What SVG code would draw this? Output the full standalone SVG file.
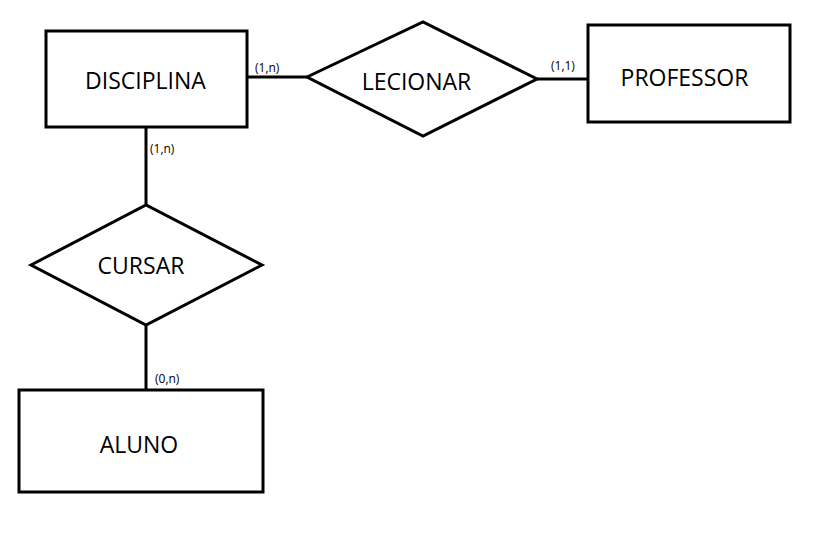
<svg xmlns="http://www.w3.org/2000/svg" width="830" height="534" viewBox="0 0 830 534">
<style>
.shape{fill:#fff;stroke:#000;stroke-width:3}
.conn{stroke:#000;stroke-width:3;fill:none}
.lbl{font-family:"Open Sans","Noto Sans",sans-serif;font-size:23px;fill:#000;text-anchor:middle}
.card{font-family:"Open Sans","Noto Sans",sans-serif;font-size:12px;fill:#000}
</style>
<rect width="830" height="534" fill="#fff"/>
<g id="connectors">
<line class="conn" x1="247" y1="77" x2="307" y2="77"/>
<line class="conn" x1="537" y1="79" x2="588" y2="79"/>
<line class="conn" x1="146" y1="127" x2="146" y2="206"/>
<line class="conn" x1="146" y1="325" x2="146" y2="393"/>
<text class="card" x="255" y="72">(1,n)</text>
<text class="card" x="551" y="70">(1,1)</text>
<text class="card" x="150" y="153">(1,n)</text>
<text class="card" x="155" y="383">(0,n)</text>
</g>
<g id="disciplina">
<rect class="shape" x="46" y="31" width="201" height="96"/>
<text class="lbl" x="145.5" y="89">DISCIPLINA</text>
</g>
<g id="lecionar">
<polygon class="shape" points="307,77 423,22 537,79 423,136"/>
<text class="lbl" x="416.5" y="90">LECIONAR</text>
</g>
<g id="professor">
<rect class="shape" x="588" y="25" width="202" height="97"/>
<text class="lbl" x="684.5" y="86">PROFESSOR</text>
</g>
<g id="cursar">
<polygon class="shape" points="31,265 146,205 262,265 146,325"/>
<text class="lbl" x="141" y="274">CURSAR</text>
</g>
<g id="aluno">
<rect class="shape" x="19" y="390" width="244" height="102"/>
<text class="lbl" x="139" y="453">ALUNO</text>
</g>
</svg>
